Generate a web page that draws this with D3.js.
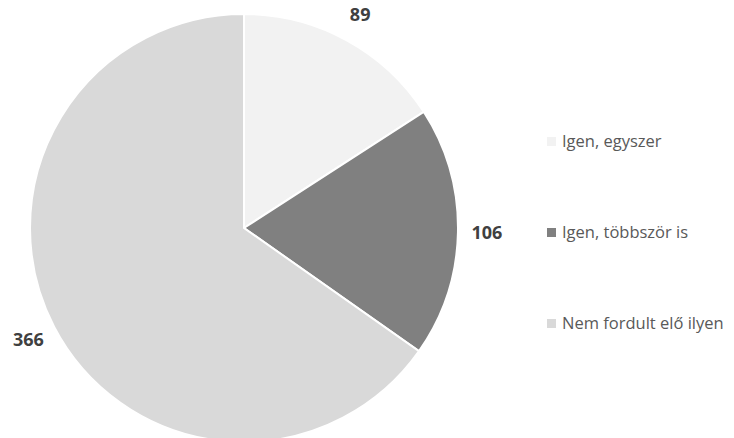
<!DOCTYPE html>
<html>
<head>
<meta charset="utf-8">
<script src="https://cdn.jsdelivr.net/npm/d3@7"></script>
<style>
  body { margin: 0; background: #fff; }
  text { font-family: "Open Sans", "Liberation Sans", sans-serif; }
</style>
</head>
<body>
<div id="chart"></div>
<script>
// data
const categories = ['Igen, egyszer', 'Igen, többször is', 'Nem fordult elő ilyen'];
const values = [89, 106, 366];
const colors = ['#f2f2f2', '#808080', '#d9d9d9'];

const width = 734;
const height = 438;
const cx = 244, cy = 228, radius = 214;

const svg = d3.select('#chart')
  .append('svg')
  .attr('width', width)
  .attr('height', height);

const data = categories.map((c, i) => ({ name: c, value: values[i], color: colors[i] }));

const pie = d3.pie().sort(null).value((d) => d.value);
const arc = d3.arc().innerRadius(0).outerRadius(radius);
const labelArc = d3.arc().innerRadius(243).outerRadius(243);

const g = svg.append('g').attr('transform', `translate(${cx},${cy})`);

const arcs = pie(data);

g.selectAll('path')
  .data(arcs)
  .enter()
  .append('path')
  .attr('d', arc)
  .attr('fill', (d) => d.data.color)
  .attr('stroke', '#fff')
  .attr('stroke-width', 2);

// value labels outside slices
g.selectAll('.lbl')
  .data(arcs)
  .enter()
  .append('text')
  .attr('class', 'lbl')
  .attr('transform', (d) => `translate(${labelArc.centroid(d)})`)
  .attr('text-anchor', 'middle')
  .attr('dy', '0.35em')
  .style('font-size', '18px')
  .style('font-weight', 'bold')
  .style('fill', '#404040')
  .text((d) => d.data.value);

// legend
const legendY = d3.scalePoint().domain(categories).range([141, 323]);
const legend = svg.selectAll('.legend')
  .data(data)
  .enter()
  .append('g')
  .attr('class', 'legend')
  .attr('transform', (d) => `translate(547,${legendY(d.name)})`);

legend.append('rect')
  .attr('x', 0)
  .attr('y', -4)
  .attr('width', 9)
  .attr('height', 9)
  .attr('fill', (d) => d.color);

legend.append('text')
  .attr('x', 15)
  .attr('dy', '0.35em')
  .style('font-size', '16.5px')
  .style('fill', '#595959')
  .text((d) => d.name);
</script>
</body>
</html>
